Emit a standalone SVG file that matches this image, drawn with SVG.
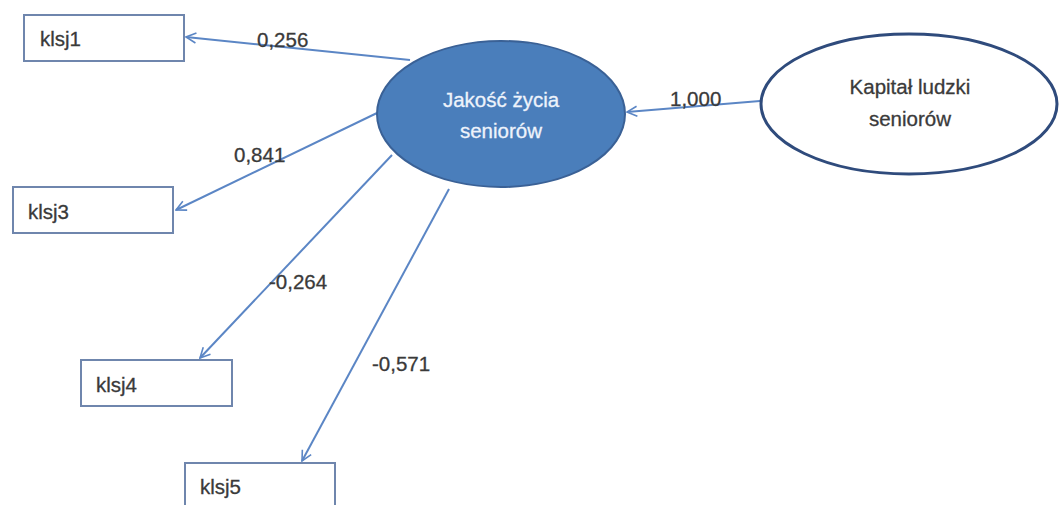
<svg xmlns="http://www.w3.org/2000/svg" width="1059" height="505" viewBox="0 0 1059 505">
  <style>
    .box { fill: #ffffff; stroke: #6f86ad; stroke-width: 2; }
    .lbl { font-family: "Liberation Sans", Arial, sans-serif; font-size: 20.5px; fill: #3a3a3a; stroke: #3a3a3a; stroke-width: 0.3; }
    .num { font-family: "Liberation Sans", Arial, sans-serif; font-size: 20.5px; fill: #3a3a3a; stroke: #3a3a3a; stroke-width: 0.3; }
    .inv { fill: #eef3fb; stroke: #eef3fb; }
    .edge { fill: none; stroke: #5b86c5; stroke-width: 2; marker-end: url(#open); }
  </style>
  <defs>
    <marker id="open" viewBox="0 0 12 12" refX="11" refY="6" markerWidth="12" markerHeight="12" markerUnits="userSpaceOnUse" orient="auto">
      <path d="M1,1 L11,6 L1,11" fill="none" stroke="#5b86c5" stroke-width="1.6"/>
    </marker>
  </defs>
  <rect width="1059" height="505" fill="#ffffff"/>

  <!-- connectors and their loadings -->
  <g id="connectors">
    <line class="edge" x1="410" y1="60" x2="186" y2="37"/>
    <line class="edge" x1="377" y1="113" x2="176" y2="210"/>
    <line class="edge" x1="392" y1="155" x2="200" y2="358"/>
    <line class="edge" x1="449" y1="189" x2="302" y2="461"/>
    <line class="edge" x1="760" y1="101" x2="627" y2="112"/>
    <text class="num" x="257" y="47">0,256</text>
    <text class="num" x="234" y="162">0,841</text>
    <text class="num" x="269" y="289">-0,264</text>
    <text class="num" x="372" y="371">-0,571</text>
    <text class="num" x="670" y="106">1,000</text>
  </g>

  <g id="klsj1">
    <rect class="box" x="24" y="15" width="160" height="46"/>
    <text class="lbl" x="40" y="46">klsj1</text>
  </g>
  <g id="klsj3">
    <rect class="box" x="13" y="187" width="160" height="46"/>
    <text class="lbl" x="28" y="219">klsj3</text>
  </g>
  <g id="klsj4">
    <rect class="box" x="81" y="360" width="151" height="46"/>
    <text class="lbl" x="96" y="392">klsj4</text>
  </g>
  <g id="klsj5">
    <rect class="box" x="185" y="463" width="150" height="50"/>
    <text class="lbl" x="200" y="494">klsj5</text>
  </g>

  <g id="jakosc">
    <ellipse cx="501" cy="114" rx="124" ry="73" fill="#4a7ebb" stroke="#3a6196" stroke-width="2"/>
    <text class="lbl inv" x="501" y="107" text-anchor="middle">Jakość życia</text>
    <text class="lbl inv" x="501" y="138" text-anchor="middle">seniorów</text>
  </g>

  <g id="kapital">
    <ellipse cx="909" cy="104" rx="148" ry="70" fill="#ffffff" stroke="#2f4b7c" stroke-width="3"/>
    <text class="lbl" x="910" y="94" text-anchor="middle">Kapitał ludzki</text>
    <text class="lbl" x="910" y="126" text-anchor="middle">seniorów</text>
  </g>
</svg>
